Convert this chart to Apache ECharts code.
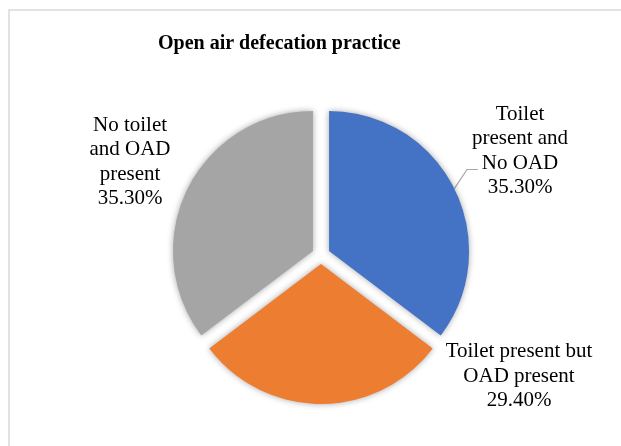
<!DOCTYPE html>
<html>
<head>
<meta charset="utf-8">
<script src="https://cdn.jsdelivr.net/npm/echarts@6/dist/echarts.min.js"></script>
<style>
html,body{margin:0;padding:0;background:#fff;}
#chart{width:621px;height:446px;}
</style>
</head>
<body>
<div id="chart"></div>
<script>
var categories = ['Toilet present and No OAD', 'Toilet present but OAD present', 'No toilet and OAD present'];
var labelTexts = ['Toilet\npresent and\nNo OAD', 'Toilet present but\nOAD present', 'No toilet\nand OAD\npresent'];
var values = [35.3, 29.4, 35.3];
var colors = ['#4472C4', '#ED7D31', '#A5A5A5'];
var titleText = 'Open air defecation practice';

// label anchor (centre) positions, in pixels
var labelPos = [[520, 151], [519, 376], [130, 162]];

var chart = echarts.init(document.getElementById('chart'));
var font = '"Liberation Serif", "Times New Roman", serif';

var baseCenter = [321, 255];
var explode = 9;
var total = values.reduce(function (a, b) { return a + b; }, 0);

// one pie series per exploded slice; the other slices of that series are hidden
var series = values.map(function (v, k) {
  var before = values.slice(0, k).reduce(function (a, b) { return a + b; }, 0);
  var mid = (before + v / 2) / total * 2 * Math.PI; // clockwise from top
  var c = [baseCenter[0] + explode * Math.sin(mid), baseCenter[1] - explode * Math.cos(mid)];
  return {
    type: 'pie',
    center: c,
    radius: [0, 140],
    startAngle: 90,
    clockwise: true,
    avoidLabelOverlap: false,
    silent: true,
    emphasis: { disabled: true },
    label: {
      show: false,
      position: 'outside',
      fontFamily: font,
      fontSize: 21,
      lineHeight: 24.5,
      color: '#000',
      align: 'center',
      formatter: function (p) {
        return labelTexts[p.dataIndex] + '\n' + p.value.toFixed(2) + '%';
      }
    },
    labelLine: {
      show: false,
      length: 10,
      length2: 10,
      smooth: false,
      lineStyle: { color: '#a6a6a6', width: 1.2 }
    },
    labelLayout: function (params) {
      var i = params.dataIndex;
      var pos = labelPos[i];
      var out = { x: pos[0], y: pos[1], align: 'center', verticalAlign: 'middle' };
      if (i === 0 && params.labelLinePoints) {
        var p0 = params.labelLinePoints[0];
        out.labelLinePoints = [p0, [467, 169.5], [478, 169.5]];
      }
      return out;
    },
    data: values.map(function (val, i) {
      var on = i === k;
      return {
        name: categories[i],
        value: val,
        itemStyle: on ? {
          color: colors[i],
          shadowBlur: 6,
          shadowColor: 'rgba(0,0,0,0.35)'
        } : { color: colors[i], opacity: 0 },
        label: { show: on },
        labelLine: { show: on && i === 0 }
      };
    })
  };
});

chart.setOption({
  backgroundColor: '#fff',
  animation: false,
  graphic: [{
    type: 'rect',
    shape: { x: 9, y: 10, width: 700, height: 500 },
    style: { fill: 'none', stroke: '#d9d9d9', lineWidth: 1.5 },
    silent: true
  }],
  title: {
    text: titleText,
    left: 153,
    top: 29,
    textStyle: { fontFamily: font, fontSize: 20, fontWeight: 'bold', color: '#000' }
  },
  series: series
});
</script>
</body>
</html>
